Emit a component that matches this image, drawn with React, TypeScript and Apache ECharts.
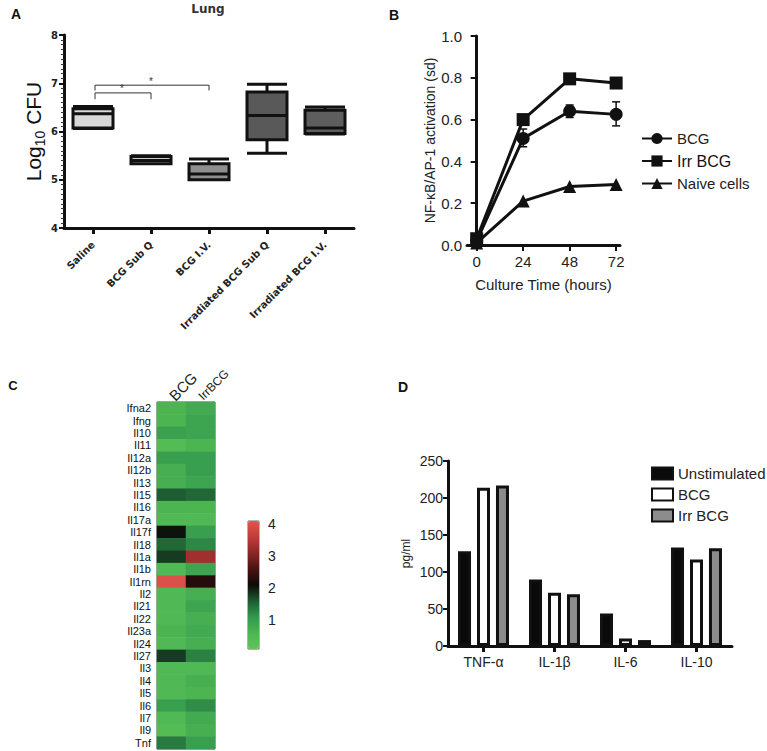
import React, { useEffect, useRef } from 'react';
import * as echarts from 'echarts';

// Panel A — Lung CFU box plots
const boxCategories = ['Saline', 'BCG Sub Q', 'BCG I.V.', 'Irradiated BCG Sub Q', 'Irradiated BCG I.V.'];
const boxMin = [6.06, 5.33, 5.0, 5.55, 5.95];
const boxQ1 = [6.07, 5.33, 5.0, 5.83, 5.96];
const boxMedian = [6.37, 5.4, 5.12, 6.33, 6.07];
const boxQ3 = [6.47, 5.48, 5.33, 6.82, 6.44];
const boxMax = [6.52, 5.5, 5.43, 6.98, 6.51];
// significance brackets: [from category, to category, bar level, leg end]
const brackets = [
  [0, 1, 6.8, 6.67],
  [0, 2, 6.96, 6.85],
];

// Panel B — NF-kB/AP-1 activation
const hours = [0, 24, 48, 72];
const bcgAct = [0.02, 0.51, 0.64, 0.625];
const irrAct = [0.03, 0.6, 0.795, 0.775];
const naiveAct = [0.01, 0.21, 0.28, 0.29];
const bcgErrLow = [0.02, 0.47, 0.61, 0.57];
const bcgErrHigh = [0.02, 0.555, 0.67, 0.685];
const bTicks = [0, 24, 48, 72];

// Panel C — heatmap
const heatColumns = ['BCG', 'IrrBCG'];
const genes = ['Ifna2', 'Ifng', 'Il10', 'Il11', 'Il12a', 'Il12b', 'Il13', 'Il15', 'Il16', 'Il17a', 'Il17f', 'Il18', 'Il1a', 'Il1b', 'Il1rn', 'Il2', 'Il21', 'Il22', 'Il23a', 'Il24', 'Il27', 'Il3', 'Il4', 'Il5', 'Il6', 'Il7', 'Il9', 'Tnf'];
const heatBCG = [0.6, 0.6, 0.95, 0.4, 1.0, 0.7, 0.7, 1.6, 0.6, 0.5, 2.05, 1.5, 1.8, 0.5, 4.0, 0.5, 0.5, 0.5, 0.6, 0.5, 1.8, 0.5, 0.5, 0.5, 1.0, 0.5, 0.4, 1.35];
const heatIrr = [0.8, 0.9, 0.9, 0.6, 1.0, 1.0, 0.9, 1.5, 0.6, 0.5, 1.0, 1.25, 3.3, 0.9, 2.3, 0.7, 0.9, 0.7, 0.8, 0.7, 1.3, 0.5, 0.7, 0.6, 1.2, 0.8, 0.7, 1.0];
const colorbarTicks = [1, 2, 3, 4];

// Panel D — cytokines
const cytokines = ['TNF-α', 'IL-1β', 'IL-6', 'IL-10'];
const unstimulated = [128, 90, 44, 133];
const bcgCyto = [214, 72, 10, 117];
const irrCyto = [217, 70, 8, 132];

const ARIAL = 'Liberation Sans, Arial, sans-serif';
const DEJAVU = 'DejaVu Sans, sans-serif';
const INK = '#111';

const axisLineStyle = { show: true, lineStyle: { color: INK, width: 3 } };
const tickStyle = { show: true, length: 5, lineStyle: { color: INK, width: 2 } };

function buildOption() {
  const heatData: number[][] = [];
  genes.forEach((_, i) => {
    heatData.push([0, i, heatBCG[i]]);
    heatData.push([1, i, heatIrr[i]]);
  });
  const boxFill = ['#d8d8d8', '#c8c8c8', '#8f8f8f', '#595959', '#5e5e5e'];
  const boxData = boxCategories.map((_, i) => ({
    value: [boxMin[i], boxQ1[i], boxMedian[i], boxQ3[i], boxMax[i]],
    itemStyle: { color: boxFill[i] },
  }));
  const errData = hours.map((h, i) => [h, bcgErrLow[i], bcgErrHigh[i]]);

  return {
    animation: false,
    backgroundColor: '#fff',
    graphic: [
      { type: 'text', x: 16, y: 14, style: { text: 'A', font: `bold 14px ${ARIAL}`, fill: INK, textAlign: 'center', textVerticalAlign: 'middle' } },
      { type: 'text', x: 394, y: 15, style: { text: 'B', font: `bold 14px ${ARIAL}`, fill: INK, textAlign: 'center', textVerticalAlign: 'middle' } },
      { type: 'text', x: 13, y: 385, style: { text: 'C', font: `bold 13px ${ARIAL}`, fill: INK, textAlign: 'center', textVerticalAlign: 'middle' } },
      { type: 'text', x: 403, y: 387, style: { text: 'D', font: `bold 14px ${ARIAL}`, fill: INK, textAlign: 'center', textVerticalAlign: 'middle' } },
      { type: 'text', x: 208, y: 9, style: { text: 'Lung', font: `bold 12px ${DEJAVU}`, fill: '#333', textAlign: 'center', textVerticalAlign: 'middle' } },
    ],
    grid: [
      { left: 64, top: 35, width: 290, height: 193 },
      { left: 467, top: 36, width: 153, height: 209 },
      { left: 157, top: 402, width: 58, height: 347, show: true, borderColor: '#555', borderWidth: 1, backgroundColor: 'transparent' },
      { left: 248, top: 521, width: 11, height: 128, show: true, borderColor: '#666', borderWidth: 1, backgroundColor: 'transparent' },
      { left: 448, top: 461, width: 284, height: 185 },
    ],
    xAxis: [
      {
        type: 'category', gridIndex: 0, data: boxCategories,
        axisLine: axisLineStyle,
        axisTick: { ...tickStyle, alignWithLabel: true, length: 6, lineStyle: { color: INK, width: 3 } },
        axisLabel: { rotate: 45, fontSize: 10, fontWeight: 'bold', fontFamily: DEJAVU, color: '#222', margin: 15, interval: 0 },
        splitLine: { show: false },
      },
      {
        type: 'value', gridIndex: 1, min: -5, max: 74,
        axisLine: { ...axisLineStyle, onZero: false },
        axisTick: { ...tickStyle, length: 6, customValues: bTicks },
        axisLabel: { customValues: bTicks, fontSize: 15, fontFamily: ARIAL, color: '#222', margin: 9 },
        splitLine: { show: false },
        name: 'Culture Time (hours)', nameLocation: 'middle', nameGap: 32,
        nameTextStyle: { fontSize: 15, fontFamily: ARIAL, color: '#222' },
      },
      {
        type: 'category', gridIndex: 2, data: heatColumns, position: 'top',
        axisLine: { show: false }, axisTick: { show: false },
        axisLabel: {
          rotate: -45, margin: 4, interval: 0, fontFamily: ARIAL, color: '#222',
          formatter: (v: string) => (v === 'BCG' ? `{a|${v}}` : `{b|${v}}`),
          rich: { a: { fontSize: 15, fontFamily: ARIAL, color: '#222' }, b: { fontSize: 12, fontFamily: ARIAL, color: '#222' } },
        },
        splitLine: { show: false },
      },
      { type: 'value', gridIndex: 3, show: false },
      {
        type: 'category', gridIndex: 4, data: cytokines,
        axisLine: axisLineStyle,
        axisTick: { ...tickStyle, alignWithLabel: true, length: 6, lineStyle: { color: INK, width: 3 } },
        axisLabel: { fontSize: 14, fontFamily: ARIAL, color: '#222', margin: 9 },
        splitLine: { show: false },
      },
    ],
    yAxis: [
      {
        type: 'value', gridIndex: 0, min: 4, max: 8, interval: 1,
        axisLine: axisLineStyle,
        axisTick: { ...tickStyle, length: 5 },
        minorTick: { show: true, splitNumber: 10, length: 3, lineStyle: { color: '#333', width: 1 } },
        axisLabel: { fontSize: 10, fontWeight: 'bold', fontFamily: DEJAVU, color: '#222', margin: 6 },
        splitLine: { show: false },
        name: 'Log{s|10} CFU', nameLocation: 'middle', nameRotate: 90, nameGap: 26,
        nameTextStyle: {
          fontSize: 21, fontFamily: ARIAL, color: '#111', lineHeight: 28, verticalAlign: 'middle',
          rich: { s: { fontSize: 14, fontFamily: ARIAL, color: '#111', lineHeight: 28, verticalAlign: 'bottom' } },
        },
      },
      {
        type: 'value', gridIndex: 1, min: 0, max: 1, interval: 0.2,
        axisLine: { ...axisLineStyle, onZero: true },
        axisTick: { ...tickStyle, length: 6 },
        axisLabel: { fontSize: 15, fontFamily: ARIAL, color: '#222', margin: 5, formatter: (v: number) => v.toFixed(1) },
        splitLine: { show: false },
        name: 'NF-κB/AP-1 activation (sd)', nameLocation: 'middle', nameRotate: 90, nameGap: 30,
        nameTextStyle: { fontSize: 14, fontFamily: ARIAL, color: '#222' },
      },
      {
        type: 'category', gridIndex: 2, data: genes, inverse: true,
        axisLine: { show: false }, axisTick: { show: false },
        axisLabel: { fontSize: 11, lineHeight: 11, fontFamily: ARIAL, color: '#111', margin: 6, interval: 0 },
        splitLine: { show: false },
      },
      {
        type: 'value', gridIndex: 3, min: 0.1, max: 4.1, position: 'right',
        axisLine: { show: false }, axisTick: { show: false },
        axisLabel: { customValues: colorbarTicks, fontSize: 14, fontFamily: ARIAL, color: '#222', margin: 9 },
        splitLine: { show: false },
      },
      {
        type: 'value', gridIndex: 4, min: 0, max: 250, interval: 50,
        axisLine: axisLineStyle,
        axisTick: { ...tickStyle, length: 5 },
        axisLabel: { fontSize: 14, fontFamily: ARIAL, color: '#222', margin: 5 },
        splitLine: { show: false },
        name: 'pg/ml', nameLocation: 'middle', nameRotate: 90, nameGap: 36,
        nameTextStyle: { fontSize: 12, fontFamily: ARIAL, color: '#222' },
      },
    ],
    legend: [
      {
        data: ['BCG', 'Irr BCG', 'Naive cells'], orient: 'vertical', left: 636, top: 126,
        itemWidth: 30, itemHeight: 14, itemGap: 7,
        textStyle: { fontSize: 15, fontFamily: ARIAL, color: '#222', rich: { b: { fontSize: 16, fontFamily: ARIAL, color: '#111' } } },
        formatter: (n: string) => (n === 'Irr BCG' ? `{b|${n}}` : n),
      },
      {
        data: ['D:Unstimulated', 'D:BCG', 'D:Irr BCG'], orient: 'vertical', left: 646, top: 461,
        icon: 'rect', itemWidth: 21, itemHeight: 12, itemGap: 6,
        textStyle: { fontSize: 15, fontFamily: ARIAL, color: '#222' },
        formatter: (n: string) => n.replace(/^D:/, ''),
      },
    ],
    visualMap: {
      type: 'continuous', seriesIndex: 6, min: 0.1, max: 4.1, left: 248, top: 521,
      itemWidth: 11, itemHeight: 128, padding: 0, calculable: false, hoverLink: false,
      inRange: { color: ['#62c45a', '#4cb552', '#33994d', '#1e5c32', '#0c0a08', '#4a1212', '#8a2626', '#c03d38', '#e0554e'] },
    },
    series: [
      {
        type: 'boxplot', xAxisIndex: 0, yAxisIndex: 0, data: boxData, boxWidth: [40, 40],
        itemStyle: { borderColor: INK, borderWidth: 3 },
      },
      {
        type: 'custom', xAxisIndex: 0, yAxisIndex: 0, data: brackets, z: 5,
        renderItem: (params: any, api: any) => {
          const a = api.value(0);
          const b = api.value(1);
          const barL = api.coord([a, api.value(2)]);
          const barR = api.coord([b, api.value(2)]);
          const legL = api.coord([a, api.value(3)]);
          const legR = api.coord([b, api.value(3)]);
          const style = { stroke: '#333', lineWidth: 1, fill: 'none' };
          return {
            type: 'group',
            children: [
              {
                type: 'polyline',
                shape: { points: [[legL[0] + 2, legL[1]], [barL[0] + 2, barL[1]], [barR[0], barR[1]], [legR[0], legR[1]]] },
                style,
              },
              {
                type: 'text',
                style: {
                  text: '*', x: (barL[0] + barR[0]) / 2, y: barL[1] + 1,
                  fill: '#333', font: `10px ${ARIAL}`, textAlign: 'center', textVerticalAlign: 'bottom',
                },
              },
            ],
          };
        },
      },
      {
        name: 'BCG', type: 'line', xAxisIndex: 1, yAxisIndex: 1, z: 3,
        data: hours.map((h, i) => [h, bcgAct[i]]),
        symbol: 'circle', symbolSize: 13, itemStyle: { color: INK }, lineStyle: { color: INK, width: 3 },
      },
      {
        name: 'Irr BCG', type: 'line', xAxisIndex: 1, yAxisIndex: 1, z: 3,
        data: hours.map((h, i) => [h, irrAct[i]]),
        symbol: 'rect', symbolSize: 13, itemStyle: { color: INK }, lineStyle: { color: INK, width: 3 },
      },
      {
        name: 'Naive cells', type: 'line', xAxisIndex: 1, yAxisIndex: 1, z: 3,
        data: hours.map((h, i) => [h, naiveAct[i]]),
        symbol: 'triangle', symbolSize: 13, itemStyle: { color: INK }, lineStyle: { color: INK, width: 3 },
      },
      {
        type: 'custom', xAxisIndex: 1, yAxisIndex: 1, z: 2, data: errData,
        renderItem: (params: any, api: any) => {
          const x = api.value(0);
          const lo = api.coord([x, api.value(1)]);
          const hi = api.coord([x, api.value(2)]);
          const w = 4;
          const style = { stroke: INK, lineWidth: 1.5 };
          return {
            type: 'group',
            children: [
              { type: 'line', shape: { x1: lo[0], y1: lo[1], x2: hi[0], y2: hi[1] }, style },
              { type: 'line', shape: { x1: lo[0] - w, y1: lo[1], x2: lo[0] + w, y2: lo[1] }, style },
              { type: 'line', shape: { x1: hi[0] - w, y1: hi[1], x2: hi[0] + w, y2: hi[1] }, style },
            ],
          };
        },
      },
      {
        type: 'heatmap', xAxisIndex: 2, yAxisIndex: 2, data: heatData,
        itemStyle: { borderWidth: 0 },
      },
      {
        name: 'D:Unstimulated', type: 'bar', xAxisIndex: 4, yAxisIndex: 4, data: unstimulated,
        barWidth: 13, barGap: '46%', itemStyle: { color: '#0a0a0a', borderColor: INK, borderWidth: 3 },
      },
      {
        name: 'D:BCG', type: 'bar', xAxisIndex: 4, yAxisIndex: 4, data: bcgCyto,
        barWidth: 13, barGap: '46%', itemStyle: { color: '#ffffff', borderColor: INK, borderWidth: 3 },
      },
      {
        name: 'D:Irr BCG', type: 'bar', xAxisIndex: 4, yAxisIndex: 4, data: irrCyto,
        barWidth: 13, barGap: '46%', itemStyle: { color: '#8c8c8c', borderColor: INK, borderWidth: 3 },
      },
    ],
  };
}

export default function App() {
  const ref = useRef<HTMLDivElement>(null);
  useEffect(() => {
    if (!ref.current) return;
    const chart = echarts.init(ref.current, null, { renderer: 'svg' });
    chart.setOption(buildOption() as any);
    return () => chart.dispose();
  }, []);
  return (
    <div
      ref={ref}
      style={{ position: 'fixed', left: 0, top: 0, width: 767, height: 751, background: '#fff' }}
    />
  );
}
